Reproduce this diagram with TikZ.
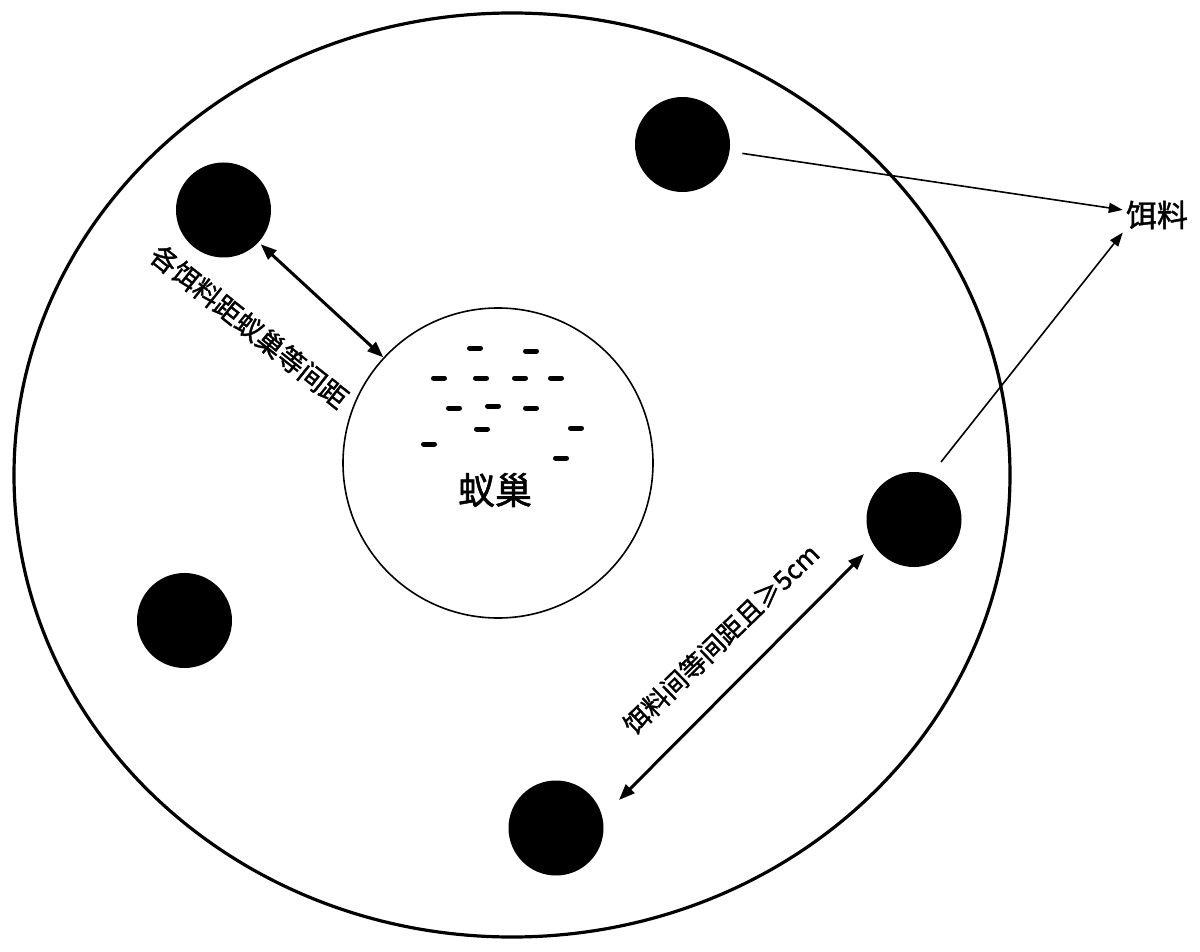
\documentclass[tikz,border=0pt]{standalone}
\usepackage{fontspec}
\newfontfamily\cjk{Noto Sans CJK SC}[FakeBold=1.4]
\usetikzlibrary{arrows.meta}
\begin{document}
\begin{tikzpicture}[x=1pt,y=-1pt,
  baitdot/.style={circle,fill=black,minimum size=95pt,inner sep=0pt,outer sep=0pt},
  dblarrow/.style={line width=3pt,{Triangle[length=16pt,width=12pt]}-{Triangle[length=16pt,width=12pt]}},
  thinarrow/.style={line width=1.6pt,-{Triangle[length=14pt,width=10pt]}},
  antmark/.style={line width=5pt,line cap=round},
  lbl/.style={font=\cjk\fontsize{27pt}{27pt}\selectfont,inner sep=0pt}]
\useasboundingbox (0,0) rectangle (1200,952);
\fill[white] (0,0) rectangle (1200,952);
% dish
\draw[line width=3.2pt] (512,475) ellipse [x radius=498, y radius=462];
% nest
\node[circle,draw,line width=1.6pt,minimum size=310pt,inner sep=0pt,outer sep=0pt] (nest) at (498,463) {};
\node[font=\cjk\fontsize{37pt}{37pt}\selectfont,inner sep=0pt] (nestlab) at (495,490) {蚁巢};
% ants
\foreach \x/\y in {475/348,531/351,439/378,481/378,520/378,556/378,454/408,493/406,531/408,482/429,576/428,429/444,561/458}
  \draw[antmark] (\x-5.5,\y) -- (\x+5.5,\y);
% baits
\node[baitdot] (dotA) at (223.5,210) {};
\node[baitdot] (dotB) at (682.5,144.5) {};
\node[baitdot] (dotC) at (184.5,620.5) {};
\node[baitdot] (dotD) at (914,519.5) {};
\node[baitdot] (dotE) at (556,828) {};
% label bait
\node[font=\cjk\fontsize{31pt}{31pt}\selectfont,inner sep=3pt] (bait) at (1157,215) {饵料};
% arrows
\draw[dblarrow,shorten <=3pt,shorten >=1pt] (dotA) -- (nest);
\coordinate (e2a) at (619,800);
\coordinate (e2b) at (864,554);
\draw[dblarrow] (e2a) -- (e2b);
\draw[thinarrow,shorten <=13pt] (dotB) -- (bait);
\coordinate (d4) at (941,462);
\draw[thinarrow] (d4) -- (bait.south west);
% rotated labels
\node[lbl,rotate=-38.5] (lab1) at (249.5,326.5) {各饵料距蚁巢等间距};
\node[lbl,rotate=44,font=\cjk\fontsize{26pt}{26pt}\selectfont] (lab2) at (721,639) {饵料间等间距且≥5cm};
\end{tikzpicture}
\end{document}
